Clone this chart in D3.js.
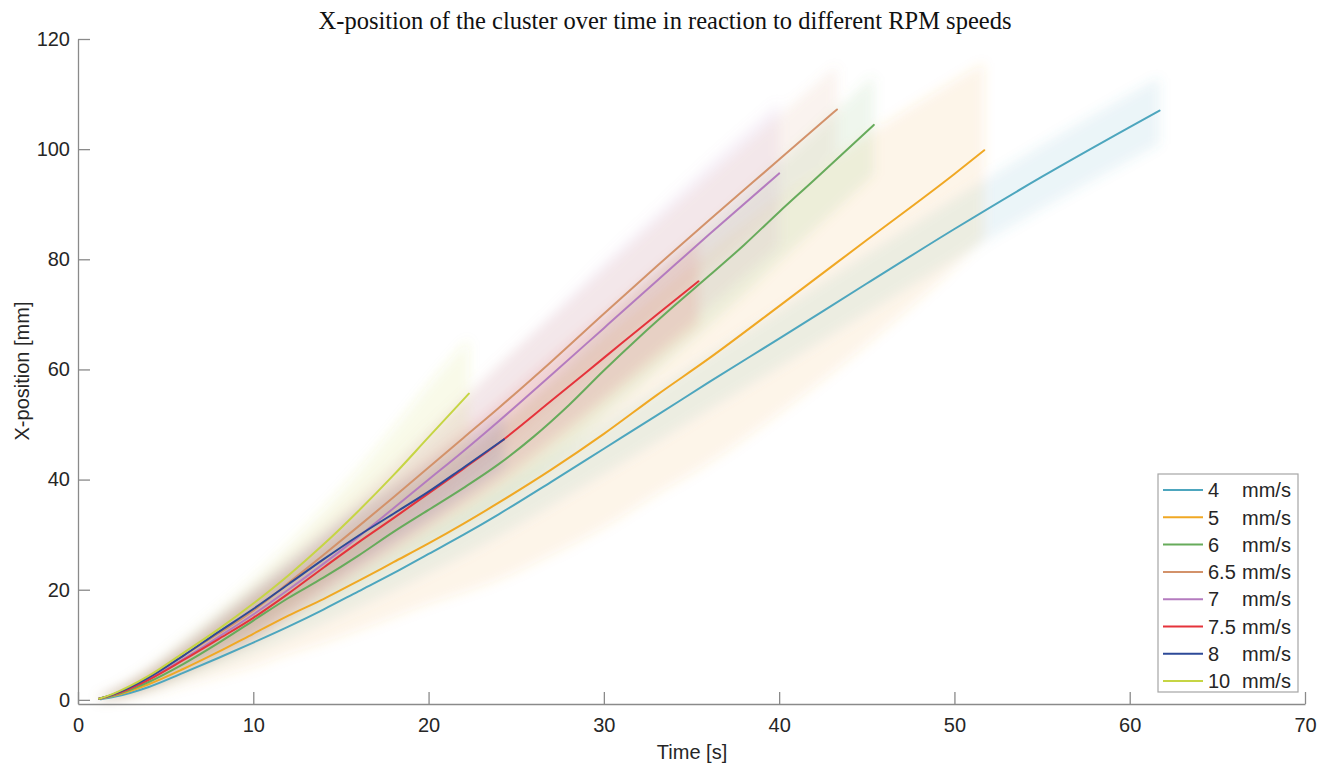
<!DOCTYPE html>
<html><head><meta charset="utf-8">
<script src="https://cdn.jsdelivr.net/npm/d3@7"></script>
<style>
body{margin:0;background:#fff}
</style>
</head><body>
<svg id="c" width="1333" height="769"></svg>
<script>
// ---- data ----
const seriesLabels = ["4", "5", "6", "6.5", "7", "7.5", "8", "10"];
const seriesColors = ["#4da6be", "#f0a824", "#67ab5b", "#d3926a", "#b47bbf", "#e5333b", "#2d4a98", "#c6d544"];

const t4  = [1.3, 2, 4, 6, 8, 10, 12, 14, 16, 18, 20, 22, 24, 27, 30, 33, 36, 40, 45, 50, 55, 60, 61.7];
const v4  = [0.1, 0.5, 2.3, 4.9, 7.6, 10.4, 13.3, 16.4, 19.7, 23.0, 26.5, 30.0, 33.7, 39.6, 45.6, 51.6, 57.7, 65.6, 75.6, 85.5, 95.0, 104.0, 107.0];
const sd4 = [0.2, 0.4, 0.8, 1.2, 1.6, 2.0, 2.3, 2.6, 2.9, 3.2, 3.5, 3.8, 4.0, 4.3, 4.6, 4.8, 5.0, 5.2, 5.4, 5.6, 5.8, 6.0, 6.0];

const t5  = [1.2, 2, 4, 6, 8, 10, 12, 14, 16, 18, 20, 22, 24, 27, 30, 33, 36, 40, 45, 50, 51.7];
const v5  = [0.2, 0.7, 2.8, 5.6, 8.7, 12.0, 15.3, 18.3, 21.6, 25.0, 28.4, 32.0, 35.8, 41.8, 48.3, 55.3, 62.0, 71.5, 83.5, 95.5, 99.8];
const sd5 = [0.3, 0.8, 2.0, 3.0, 4.5, 6.0, 7.0, 8.0, 9.0, 10.0, 11.0, 12.5, 14.0, 15.5, 17.0, 18.0, 19.0, 19.5, 19.0, 17.0, 16.0];

const t6  = [1.2, 2, 4, 6, 8, 10, 12, 14, 16, 18, 20, 22, 24, 26, 28, 30, 32, 34, 36, 38, 40, 42, 45.4];
const v6  = [0.2, 0.8, 3.2, 6.5, 10.3, 14.4, 18.5, 22.2, 26.2, 30.5, 34.5, 38.5, 42.8, 47.8, 53.5, 59.8, 65.8, 71.5, 77.0, 82.6, 88.6, 94.4, 104.4];
const sd6 = [0.2, 0.5, 1.2, 2.0, 2.8, 3.5, 4.0, 4.5, 5.0, 5.5, 6.0, 6.5, 7.0, 7.5, 8.0, 8.5, 9.0, 9.0, 9.0, 9.0, 9.0, 9.0, 9.0];

const t65  = [1.2, 2, 4, 6, 8, 10, 12, 14, 16, 18, 20, 22, 24, 27, 30, 33, 36, 40, 43.3];
const v65  = [0.2, 1.0, 4.0, 8.0, 12.0, 16.2, 21.2, 26.3, 31.5, 36.8, 42.2, 47.6, 53.0, 61.4, 70.1, 78.7, 87.1, 98.1, 107.2];
const sd65 = [0.2, 0.6, 1.5, 2.5, 3.5, 4.5, 5.0, 5.5, 6.0, 6.5, 7.0, 7.5, 8.0, 8.0, 8.0, 8.0, 8.0, 8.0, 8.0];

const t7  = [1.2, 2, 4, 6, 8, 10, 12, 14, 16, 18, 20, 22, 24, 27, 30, 33, 36, 40];
const v7  = [0.2, 0.9, 3.7, 7.4, 11.4, 15.5, 20.0, 24.7, 29.6, 34.8, 40.0, 45.2, 50.6, 59.0, 67.5, 76.0, 84.5, 95.6];
const sd7 = [0.2, 0.6, 1.5, 2.5, 3.5, 4.5, 5.0, 5.5, 6.0, 7.0, 8.0, 9.0, 10.0, 11.0, 12.0, 12.5, 13.0, 13.0];

const t75  = [1.2, 2, 4, 6, 8, 10, 12, 14, 16, 18, 20, 22, 24, 27, 30, 33, 35.4];
const v75  = [0.2, 0.9, 3.6, 7.2, 11.0, 14.9, 19.3, 24.0, 28.6, 33.0, 37.5, 42.0, 46.6, 54.3, 62.1, 69.9, 76.0];
const sd75 = [0.2, 0.5, 1.2, 2.0, 3.0, 4.0, 4.5, 5.0, 5.5, 6.0, 6.5, 7.0, 7.5, 8.0, 8.0, 8.0, 8.0];

const t8  = [1.2, 2, 4, 6, 8, 10, 12, 14, 16, 18, 20, 22, 24.3];
const v8  = [0.2, 1.0, 4.0, 8.0, 12.3, 16.5, 21.0, 25.5, 29.8, 33.8, 37.8, 42.2, 47.3];
const sd8 = [0.2, 0.5, 1.2, 2.0, 2.8, 3.5, 4.0, 4.5, 5.0, 5.0, 5.0, 5.0, 5.0];

const t10  = [1.2, 2, 4, 6, 8, 10, 12, 14, 16, 18, 20, 22.3];
const v10  = [0.2, 1.1, 4.3, 8.5, 12.8, 17.5, 22.6, 28.2, 34.3, 40.8, 47.7, 55.6];
const sd10 = [0.2, 0.6, 1.5, 2.5, 3.5, 4.5, 5.5, 6.5, 7.5, 8.5, 9.5, 10.0];

const xTicks = [0, 10, 20, 30, 40, 50, 60, 70];
const yTicks = [0, 20, 40, 60, 80, 100, 120];

const titleText = "X-position of the cluster over time in reaction to different RPM speeds";
const xLabel = "Time [s]";
const yLabel = "X-position [mm]";

// ---- build table ----
const tList = [t4, t5, t6, t65, t7, t75, t8, t10];
const vList = [v4, v5, v6, v65, v7, v75, v8, v10];
const sList = [sd4, sd5, sd6, sd65, sd7, sd75, sd8, sd10];
const series = seriesLabels.map((lab, i) => ({
  label: lab, color: seriesColors[i],
  pts: tList[i].map((t, j) => ({t, v: vList[i][j], s: sList[i][j]}))
}));

// ---- drawing ----
const SANS = "Arial, 'Liberation Sans', Helvetica, sans-serif";
const SERIF = "'Liberation Serif', 'Times New Roman', Times, serif";
const svg = d3.select("#c");
svg.append("rect").attr("width", 1333).attr("height", 769).attr("fill", "#fff");

const x = d3.scaleLinear().domain([0, 70]).range([78, 1305]);
const y = d3.scaleLinear().domain([-0.75, 120]).range([704, 39]);

const defs = svg.append("defs");
defs.append("filter").attr("id", "blur").attr("x", "-20%").attr("y", "-20%").attr("width", "140%").attr("height", "140%")
  .append("feGaussianBlur").attr("stdDeviation", 6);

// bands
const area = d3.area().x(d => x(d.t)).y0(d => y(d.v - d.s)).y1(d => y(d.v + d.s)).curve(d3.curveMonotoneX);
const bandG = svg.append("g").attr("filter", "url(#blur)");
series.forEach(s => {
  bandG.append("path").datum(s.pts).attr("d", area)
    .attr("fill", s.color).attr("fill-opacity", 0.11).attr("stroke", "none");
});

// axes
const axisColor = "#8a8a8a";
const xAxis = svg.append("g").attr("transform", `translate(0,${y.range()[0]})`)
  .call(d3.axisBottom(x).tickValues(xTicks).tickFormat(d3.format("d")).tickSizeInner(-12).tickSizeOuter(0).tickPadding(14));
const yAxis = svg.append("g").attr("transform", `translate(${x.range()[0]},0)`)
  .call(d3.axisLeft(y).tickValues(yTicks).tickFormat(d3.format("d")).tickSizeInner(-12).tickSizeOuter(0).tickPadding(8));
[xAxis, yAxis].forEach(g => {
  g.select(".domain").attr("stroke", axisColor).attr("stroke-width", 1.3);
  g.selectAll(".tick line").attr("stroke", axisColor).attr("stroke-width", 1.3);
  g.selectAll(".tick text").attr("fill", "#262626").style("font-size", "20px").style("font-family", SANS);
});

// lines
const line = d3.line().x(d => x(d.t)).y(d => y(d.v)).curve(d3.curveMonotoneX);
series.forEach(s => {
  svg.append("path").datum(s.pts).attr("d", line)
    .attr("fill", "none").attr("stroke", s.color).attr("stroke-width", 2)
    .attr("stroke-linejoin", "round").attr("stroke-linecap", "round");
});

// title & labels
svg.append("text").attr("x", 665).attr("y", 29).attr("text-anchor", "middle")
  .style("font-family", SERIF).style("font-size", "24.5px")
  .attr("fill", "#111").text(titleText);
svg.append("text").attr("x", 692).attr("y", 759).attr("text-anchor", "middle")
  .style("font-family", SANS).style("font-size", "20px").attr("fill", "#262626").text(xLabel);
svg.append("text").attr("transform", "translate(29,371) rotate(-90)").attr("text-anchor", "middle")
  .style("font-family", SANS).style("font-size", "20px").attr("fill", "#262626").text(yLabel);

// legend
const lg = svg.append("g");
const lx = 1158, ly = 474, lw = 140, lh = 218, rowH = 27.3, row0 = 490;
lg.append("rect").attr("x", lx).attr("y", ly).attr("width", lw).attr("height", lh)
  .attr("fill", "#fff").attr("stroke", "#a6a6a6").attr("stroke-width", 1.2);
series.forEach((s, i) => {
  const yy = row0 + i * rowH;
  lg.append("line").attr("x1", 1163).attr("x2", 1203).attr("y1", yy).attr("y2", yy)
    .attr("stroke", s.color).attr("stroke-width", 2);
  lg.append("text").attr("x", 1208).attr("y", yy).attr("dy", "0.36em")
    .style("font-family", SANS).style("font-size", "20px").attr("fill", "#262626").text(s.label);
  lg.append("text").attr("x", 1242).attr("y", yy).attr("dy", "0.36em")
    .style("font-family", SANS).style("font-size", "20px").attr("fill", "#262626").text("mm/s");
});
</script>
</body></html>
